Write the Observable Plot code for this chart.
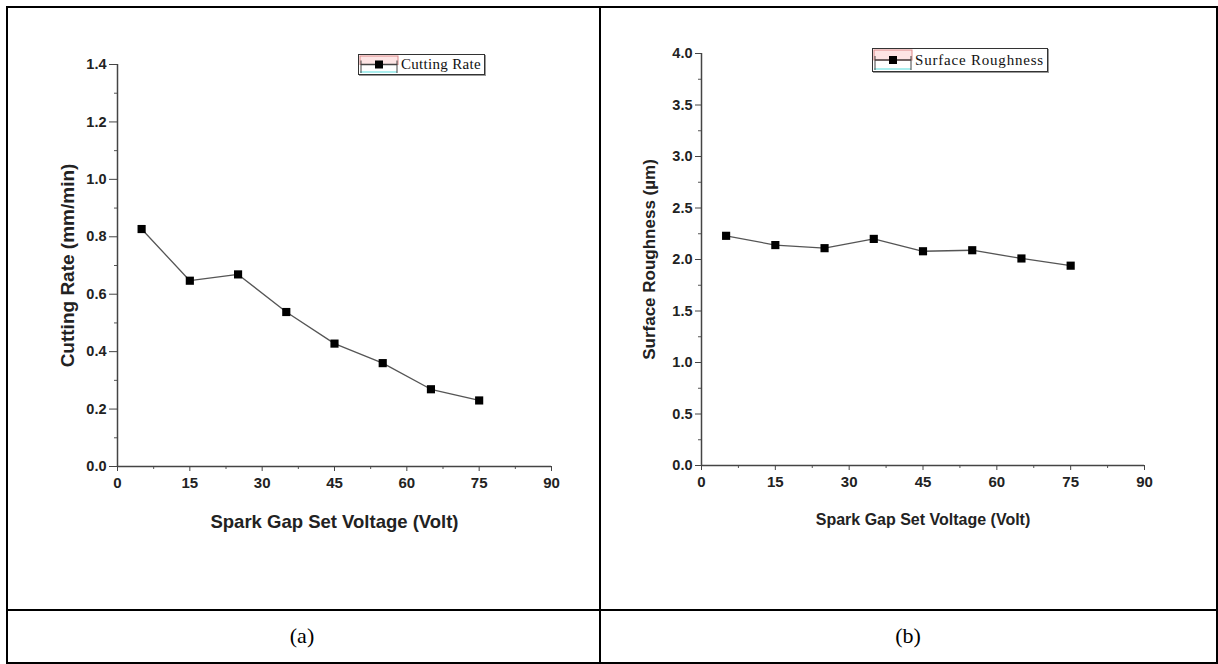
<!DOCTYPE html>
<html><head><meta charset="utf-8">
<script src="https://cdn.jsdelivr.net/npm/d3@7"></script>
<script src="https://cdn.jsdelivr.net/npm/@observablehq/plot@0.6"></script>
<style>
body{margin:0;background:#fff;}
#wrap{position:relative;width:1218px;height:664px;overflow:hidden;background:#fff;}
.b{position:absolute;background:#000;}
.cap{position:absolute;font-family:"Liberation Serif","Times New Roman",serif;font-size:22px;color:#000;transform:translate(-50%,-50%);}
.plot{position:absolute;top:0;}
.leg{position:absolute;border:1px solid #333;box-shadow:1px 1px 0 #999;background:#fff;display:flex;align-items:center;font-family:"Liberation Serif","Times New Roman",serif;font-size:15px;color:#111;white-space:nowrap;}
.leg span{padding-left:2px;padding-right:3px;}
</style></head>
<body><div id="wrap"></div>
<script>
const voltage = [5, 15, 25, 35, 45, 55, 65, 75];
const cuttingRate = [0.827, 0.647, 0.669, 0.538, 0.428, 0.36, 0.269, 0.23];
const roughness = [2.23, 2.14, 2.11, 2.20, 2.08, 2.09, 2.01, 1.94];
const xTicks = [0, 15, 30, 45, 60, 75, 90];
const xMinor = [7.5, 22.5, 37.5, 52.5, 67.5, 82.5];
const crTicks = [0, 0.2, 0.4, 0.6, 0.8, 1.0, 1.2, 1.4];
const crMinor = [0.1, 0.3, 0.5, 0.7, 0.9, 1.1, 1.3];
const srTicks = [0, 0.5, 1.0, 1.5, 2.0, 2.5, 3.0, 3.5, 4.0];
const srMinor = [0.25, 0.75, 1.25, 1.75, 2.25, 2.75, 3.25, 3.75];
const xTitle = "Spark Gap Set Voltage (Volt)";
const crTitle = "Cutting Rate (mm/min)";
const srTitle = "Surface Roughness (\u00b5m)";
const crSeries = "Cutting Rate";
const srSeries = "Surface Roughness";
const captions = ["(a)", "(b)"];

const wrap = document.getElementById("wrap");
const FONT = '"Liberation Sans", Arial, sans-serif';

function makeChart(o) {
  const data = voltage.map((v, i) => ({x: v, y: o.values[i]}));
  const ymax = o.yTicks[o.yTicks.length - 1];
  return Plot.plot({
    width: o.width, height: 610,
    marginLeft: o.ml, marginRight: o.mr, marginTop: o.mt, marginBottom: o.mb,
    x: {domain: [0, 90]},
    y: {domain: [0, ymax]},
    style: {fontFamily: FONT, color: "#222", background: "transparent", overflow: "visible"},
    marks: [
      Plot.axisX(xTicks, {tickSize: 5, tickPadding: 6, label: null, tickFormat: d => String(d), stroke: "#444", fontSize: 15, fontWeight: "bold", fill: "#222"}),
      Plot.axisX(xMinor, {tickSize: 3, tickPadding: 0, label: null, tickFormat: () => "", stroke: "#555"}),
      Plot.axisY(o.yTicks, {tickSize: o.ytick, tickPadding: o.ypad, label: null, tickFormat: d3.format(".1f"), stroke: "#444", fontSize: 14.5, fontWeight: "bold", fill: "#222"}),
      Plot.axisY(o.yMinor, {tickSize: 3, tickPadding: 0, label: null, tickFormat: () => "", stroke: "#555"}),
      Plot.ruleX([0], {y1: 0, y2: ymax, stroke: "#444", strokeWidth: 1.5}),
      Plot.ruleY([0], {x1: 0, x2: 90, stroke: "#444", strokeWidth: 1.5}),
      Plot.line(data, {x: "x", y: "y", stroke: "#555", strokeWidth: 1.3}),
      Plot.dot(data, {x: "x", y: "y", symbol: "square", fill: "#000", stroke: "none", r: 4.6}),
      Plot.text([xTitle], {frameAnchor: "bottom", dy: o.xdy, textAnchor: "middle", lineAnchor: "middle", text: d => d, fontSize: o.xFont, fontWeight: "bold", fill: "#222"}),
      Plot.text([o.yTitle], {frameAnchor: "left", dx: o.ydx, rotate: -90, textAnchor: "middle", lineAnchor: "middle", text: d => d, fontSize: o.yFont, fontWeight: "bold", fill: "#222"})
    ]
  });
}

function addPlot(el, left) {
  const d = document.createElement("div");
  d.className = "plot";
  d.style.left = left + "px";
  d.appendChild(el);
  wrap.appendChild(d);
}

addPlot(makeChart({width: 600, ml: 117, mr: 49, mt: 64, mb: 144, values: cuttingRate,
  yTicks: crTicks, yMinor: crMinor, yTitle: crTitle, ytick: 8, ypad: 3,
  xFont: 18.5, yFont: 19, xdy: 56, ydx: -50}), 0);
addPlot(makeChart({width: 618, ml: 101, mr: 74, mt: 53, mb: 145, values: roughness,
  yTicks: srTicks, yMinor: srMinor, yTitle: srTitle, ytick: 6, ypad: 3,
  xFont: 16, yFont: 17, xdy: 54, ydx: -52}), 600);

function legend(name, left, top, h, ls) {
  const d = document.createElement("div");
  d.className = "leg";
  d.style.left = left + "px"; d.style.top = top + "px"; d.style.height = h + "px";
  d.style.letterSpacing = ls + "px";
  const ns = "http://www.w3.org/2000/svg";
  const s = document.createElementNS(ns, "svg");
  s.setAttribute("width", 40); s.setAttribute("height", h);
  const m = h / 2;
  s.innerHTML = `<rect x="1" y="1" width="38" height="${m - 1}" fill="#fde4e4" stroke="#d88" stroke-width="1"/>
    <line x1="1" x2="38" y1="${h - 2}" y2="${h - 2}" stroke="#aee" stroke-width="2"/>
    <line x1="2" x2="38" y1="${m}" y2="${m}" stroke="#444" stroke-width="1.3"/>
    <line x1="2" x2="2" y1="${m - 4}" y2="${h - 1}" stroke="#444" stroke-width="1"/>
    <line x1="38" x2="38" y1="${m - 4}" y2="${h - 1}" stroke="#444" stroke-width="1"/>
    <rect x="${20 - 4}" y="${m - 4}" width="8" height="8" fill="#000"/>`;
  d.appendChild(s);
  const t = document.createElement("span");
  t.textContent = name;
  d.appendChild(t);
  wrap.appendChild(d);
}
legend(crSeries, 358, 54, 19, 0.3);
legend(srSeries, 872, 48, 22, 0.8);

function border(x, y, w, h) {
  const d = document.createElement("div");
  d.className = "b";
  Object.assign(d.style, {left: x + "px", top: y + "px", width: w + "px", height: h + "px"});
  wrap.appendChild(d);
}
border(6, 6, 1212, 2);
border(6, 6, 2, 658);
border(1216, 6, 2, 658);
border(6, 662, 1212, 2);
border(599, 6, 2, 658);
border(6, 609, 1212, 2);

[[captions[0], 302], [captions[1], 908]].forEach(([c, x]) => {
  const d = document.createElement("div");
  d.className = "cap";
  d.style.left = x + "px"; d.style.top = "636px";
  d.textContent = c;
  wrap.appendChild(d);
});
</script></body></html>
